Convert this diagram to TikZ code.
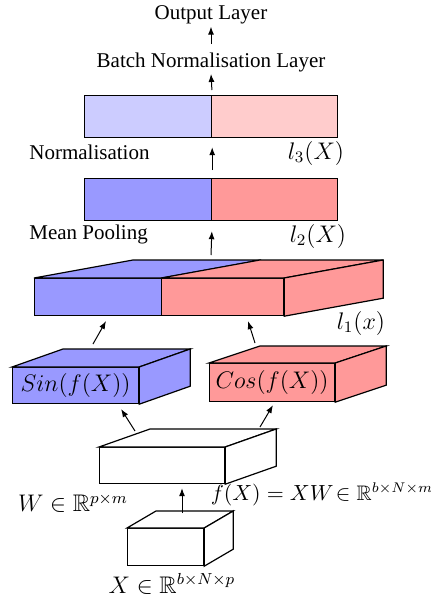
\documentclass[tikz,border=0pt]{standalone}
\usepackage[no-math]{fontspec}
\setmainfont{Liberation Serif}
\usepackage{amsmath}
\usepackage{amssymb}
\usetikzlibrary{arrows.meta,calc}

\definecolor{featblue}{RGB}{153, 153, 255}
\definecolor{featred}{RGB}{255, 153, 153}
\definecolor{normblue}{RGB}{204, 204, 255}
\definecolor{normred}{RGB}{255, 204, 204}

% top and right faces of a block whose front face is a node
\newcommand{\topface}[4]{%
  \filldraw[fill=#4, line width=0.6pt] (#1.north west) -- ++(#2,#3) -- ($(#1.north east)+(#2,#3)$) -- (#1.north east) -- cycle;}
\newcommand{\sideface}[4]{%
  \filldraw[fill=#4, line width=0.6pt] (#1.north east) -- ++(#2,#3) -- ($(#1.south east)+(#2,#3)$) -- (#1.south east) -- cycle;}

\begin{document}
\begin{tikzpicture}[
    x=0.5pt, y=-0.5pt,
    face/.style={draw, line width=0.6pt, inner sep=0pt, anchor=north west},
    lbl/.style={inner sep=1pt, font=\fontsize{10.5}{12}\selectfont},
    mlbl/.style={inner sep=1pt, font=\large},
    arrow/.style={-{Latex[length=4pt,width=3pt]}, line width=0.5pt}
  ]
    \useasboundingbox (0,0) rectangle (430,599);

    % output side
    \node[lbl] (out) at (211,15) {Output Layer};
    \node[lbl] (bn) at (211,62) {Batch Normalisation Layer};

    \node[face, fill=normblue, minimum width=63.5pt, minimum height=21pt] (l3a) at (84,95) {};
    \node[face, fill=normred, minimum width=63pt, minimum height=21pt] (l3b) at (211,95) {};
    \node[lbl, anchor=west] (norm) at (27,152) {Normalisation};
    \node[mlbl] (l3lbl) at (316,153) {$l_3(X)$};

    \node[face, fill=featblue, minimum width=63.5pt, minimum height=21pt] (l2a) at (84,178) {};
    \node[face, fill=featred, minimum width=63pt, minimum height=21pt] (l2b) at (211,178) {};
    \node[lbl, anchor=west] (pool) at (27,234) {Mean Pooling};
    \node[mlbl] (l2lbl) at (318,236) {$l_2(X)$};

    % concatenated block
    \node[face, fill=featblue, minimum width=63.5pt, minimum height=18.5pt] (l1a) at (34,278) {};
    \node[face, fill=featred, minimum width=61pt, minimum height=18.5pt] (l1b) at (161,278) {};
    \topface{l1a}{99}{-18}{featblue}
    \topface{l1b}{99}{-18}{featred}
    \sideface{l1b}{99}{-18}{featred}
    \node[mlbl] (l1lbl) at (361,323) {$l_1(x)$};

    % sine and cosine blocks
    \node[face, fill=featblue, minimum width=63pt, minimum height=18pt, font=\large] (sin) at (12,367) {$Sin(f(X))$};
    \topface{sin}{51}{-18}{featblue}
    \sideface{sin}{51}{-18}{featblue}
    \node[face, fill=featred, minimum width=62.5pt, minimum height=19pt, font=\large] (cos) at (209,363) {$Cos(f(X))$};
    \topface{cos}{51}{-17}{featred}
    \sideface{cos}{51}{-17}{featred}

    % projection and input
    \node[face, fill=white, minimum width=62.5pt, minimum height=18pt] (proj) at (99,447) {};
    \topface{proj}{51}{-18}{white}
    \sideface{proj}{51}{-18}{white}
    \node[mlbl] (wlbl) at (73,503) {$W \in \mathbb{R}^{p\times m}$};
    \node[inner sep=1pt, font=\fontsize{10.5}{12}\selectfont] (flbl) at (322,494) {$f(X) = XW\!\in \mathbb{R}^{b\times N\times m}$};

    \node[face, fill=white, minimum width=38pt, minimum height=18.5pt] (inp) at (127,528) {};
    \topface{inp}{29}{-17}{white}
    \sideface{inp}{29}{-17}{white}
    \node[mlbl] (xlbl) at (172,584) {$X \in \mathbb{R}^{b\times N\times p}$};

    % arrow starts on the top faces
    \coordinate (inptop) at (182,513);
    \coordinate (projl) at (135,431);
    \coordinate (projr) at (260,427);
    \coordinate (sintop) at (93,344);
    \coordinate (costop) at (255,343);
    \coordinate (l1top) at (211,255);

    \draw[arrow, shorten >=2pt] (inptop) -- ([xshift=41.5pt]proj.south west);
    \draw[arrow, shorten >=2.9pt] (projl) -- ([xshift=53pt]sin.south west);
    \draw[arrow, shorten >=1.7pt] (projr) -- ([xshift=32.85pt]cos.south west);
    \draw[arrow, shorten >=2.8pt] (sintop) -- ([xshift=37.4pt]l1a.south west);
    \draw[arrow, shorten >=2.6pt] (costop) -- ([xshift=42.75pt]l1b.south west);
    \draw[arrow, shorten >=5pt] (l1top) -- (l2a.south east);
    \draw[arrow, shorten <=4pt, shorten >=4.5pt] (l2a.north east) -- (l3a.south east);
    \draw[arrow, shorten <=2.5pt] (l3a.north east) -- (bn.south);
    \draw[arrow, shorten <=3pt] (bn.north) -- (out.south);
  \end{tikzpicture}
\end{document}
